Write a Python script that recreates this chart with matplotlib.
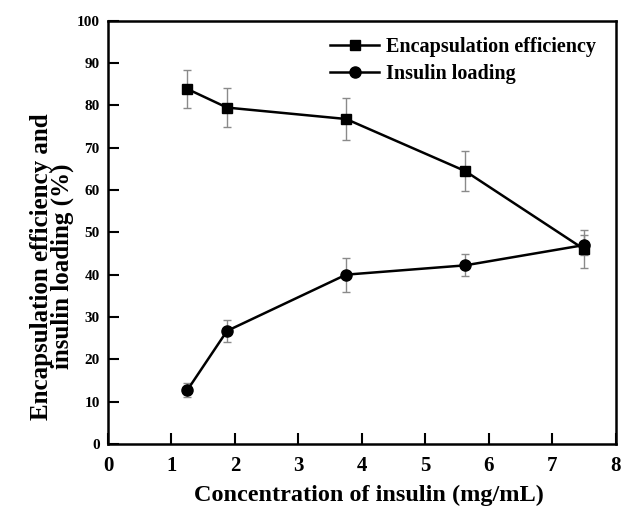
import numpy as np
import matplotlib
matplotlib.use("Agg")
import matplotlib.pyplot as plt
from matplotlib.lines import Line2D

plt.rcParams['font.family'] = ['Liberation Serif', 'DejaVu Serif']
plt.rcParams['font.weight'] = 'bold'

# insulin concentration (mg/mL)
conc = [1.25, 1.875, 3.75, 5.625, 7.5]

# encapsulation efficiency (%) and its error
ee = [83.9, 79.5, 76.8, 64.5, 46.0]
ee_err = [4.6, 4.7, 5.0, 4.8, 4.5]

# insulin loading (%) and its error
il = [12.7, 26.7, 40.0, 42.2, 47.0]
il_err = [1.6, 2.6, 4.0, 2.6, 2.3]

fig = plt.figure(figsize=(6.35, 5.09), dpi=100)
ax = fig.add_axes([0.170, 0.128, 0.800, 0.831])

err_kw = dict(ecolor='#8a8a8a', elinewidth=1.0, capsize=3, capthick=1.0)
ax.errorbar(conc, ee, yerr=ee_err, color='black', lw=1.8, marker='s', ms=7, **err_kw)
ax.errorbar(conc, il, yerr=il_err, color='black', lw=1.8, marker='o', ms=8, **err_kw)

ax.set_xlim(0, 8)
ax.set_ylim(0, 100)
ax.set_xticks(np.arange(0, 9, 1))
ax.set_yticks(np.arange(0, 101, 10))

ax.tick_params(axis='x', direction='in', length=8, width=1.5, labelsize=15, pad=9)
ax.tick_params(axis='y', direction='in', length=8, width=1.5, labelsize=11, pad=6)
for s in ax.spines.values():
    s.set_linewidth(1.8)

ax.set_xlabel('Concentration of insulin (mg/mL)', fontsize=17.5, fontweight='bold')
ax.xaxis.set_label_coords(0.514, -0.098)
ax.set_ylabel('Encapsulation efficiency and\ninsulin loading (%)', fontsize=18,
              fontweight='bold', linespacing=0.88)
ax.yaxis.set_label_coords(-0.067, 0.42)

# legend without the error bar glyphs
handles = [Line2D([], [], color='black', lw=1.8, marker='s', ms=7),
           Line2D([], [], color='black', lw=1.8, marker='o', ms=8)]
ax.legend(handles, ['Encapsulation efficiency', 'Insulin loading'], loc='upper right',
          bbox_to_anchor=(1.0, 1.01), frameon=False, fontsize=14.5, handlelength=2.4,
          borderaxespad=0.6, labelspacing=0.35, handletextpad=0.35)

fig.savefig('out.png', dpi=100)
